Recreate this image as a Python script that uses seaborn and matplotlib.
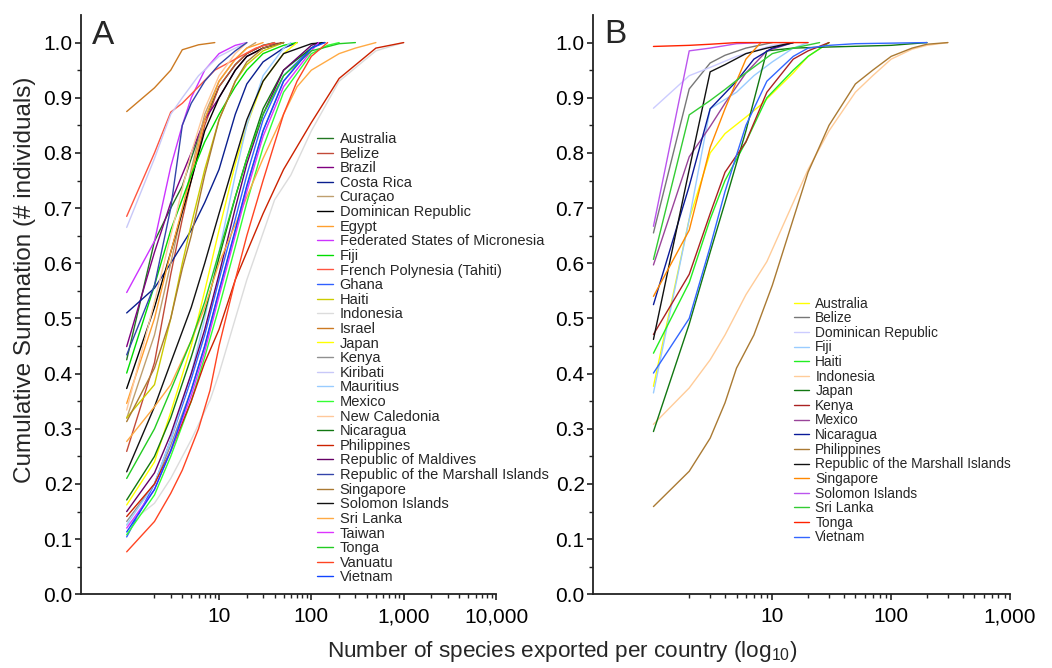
import matplotlib
matplotlib.use("Agg")
import matplotlib.pyplot as plt
import seaborn as sns
import pandas as pd

# ---------------- Panel A data ----------------
countries_A = ["Australia", "Belize", "Brazil", "Costa Rica", "Curaçao", "Dominican Republic",
               "Egypt", "Federated States of Micronesia", "Fiji", "French Polynesia (Tahiti)",
               "Ghana", "Haiti", "Indonesia", "Israel", "Japan", "Kenya", "Kiribati", "Mauritius",
               "Mexico", "New Caledonia", "Nicaragua", "Philippines", "Republic of Maldives",
               "Republic of the Marshall Islands", "Singapore", "Solomon Islands", "Sri Lanka",
               "Taiwan", "Tonga", "Vanuatu", "Vietnam"]
colors_A = ["#227722", "#c24a38", "#800080", "#0a1f8f", "#bf9f6f", "#000000",
            "#ff9f2f", "#cc33ff", "#00dd00", "#ff5540",
            "#3060ff", "#cccc00", "#dcdcdc", "#cc7a22", "#ffff00", "#909090", "#c8c8f8", "#99ccff",
            "#33ff33", "#ffc89a", "#117711", "#cc2200", "#660066",
            "#3344aa", "#aa7a33", "#111111", "#ffaa44",
            "#dd33ff", "#22cc22", "#ff4422", "#1144ff"]

a_australia_x = [1, 2, 3, 4, 5, 7, 10, 15, 20, 30, 40]
a_australia_y = [0.425, 0.64, 0.70, 0.74, 0.79, 0.86, 0.92, 0.96, 0.98, 0.995, 1.0]
a_belize_x = [1, 2, 3, 4, 5, 7, 10, 15, 20, 30, 50]
a_belize_y = [0.259, 0.42, 0.58, 0.68, 0.75, 0.85, 0.92, 0.96, 0.98, 0.995, 1.0]
a_brazil_x = [1, 2, 3, 5, 7, 10, 15, 20, 30, 50]
a_brazil_y = [0.449, 0.62, 0.71, 0.80, 0.86, 0.90, 0.95, 0.975, 0.99, 1.0]
a_costarica_x = [1, 2, 3, 5, 7, 10, 15, 20, 30, 50, 70]
a_costarica_y = [0.51, 0.555, 0.60, 0.66, 0.71, 0.77, 0.87, 0.925, 0.965, 0.99, 1.0]
a_curacao_x = [1, 2, 3, 5, 7, 10, 15, 20, 25]
a_curacao_y = [0.319, 0.47, 0.60, 0.77, 0.87, 0.93, 0.97, 0.99, 1.0]
a_dominican_x = [1, 2, 3, 5, 7, 10, 15, 20, 30, 50]
a_dominican_y = [0.373, 0.52, 0.62, 0.75, 0.84, 0.90, 0.95, 0.975, 0.99, 1.0]
a_egypt_x = [1, 2, 3, 5, 7, 10, 15, 20, 30]
a_egypt_y = [0.346, 0.50, 0.62, 0.76, 0.86, 0.93, 0.97, 0.99, 1.0]
a_micronesia_x = [1, 2, 3, 4, 5, 7, 10, 15, 20]
a_micronesia_y = [0.547, 0.64, 0.775, 0.85, 0.90, 0.95, 0.98, 0.995, 1.0]
a_fiji_x = [1, 2, 3, 5, 7, 10, 15, 20, 30, 50, 70]
a_fiji_y = [0.401, 0.56, 0.66, 0.76, 0.82, 0.87, 0.92, 0.95, 0.98, 0.995, 1.0]
a_frpolynesia_x = [1, 2, 3, 4, 6, 9, 15, 25, 40]
a_frpolynesia_y = [0.685, 0.80, 0.874, 0.89, 0.92, 0.95, 0.97, 0.99, 1.0]
a_ghana_x = [1, 2, 3, 5, 7, 10, 15, 20, 30, 50, 100, 120]
a_ghana_y = [0.104, 0.20, 0.28, 0.39, 0.47, 0.57, 0.68, 0.76, 0.86, 0.94, 0.99, 1.0]
a_haiti_x = [1, 2, 3, 4, 5, 7, 10, 15, 20, 30, 50]
a_haiti_y = [0.32, 0.38, 0.50, 0.60, 0.67, 0.77, 0.86, 0.93, 0.96, 0.985, 1.0]
a_indonesia_x = [1, 2, 3, 5, 8, 10, 20, 40, 60, 100, 200, 500, 1000]
a_indonesia_y = [0.125, 0.165, 0.21, 0.28, 0.352, 0.40, 0.57, 0.715, 0.76, 0.84, 0.93, 0.985, 1.0]
a_israel_x = [1, 2, 3, 4, 6, 9]
a_israel_y = [0.875, 0.918, 0.95, 0.987, 0.996, 1.0]
a_japan_x = [1, 2, 3, 5, 7, 10, 15, 20, 30, 50, 70]
a_japan_y = [0.162, 0.24, 0.33, 0.45, 0.55, 0.66, 0.78, 0.85, 0.93, 0.98, 1.0]
a_kenya_x = [1, 2, 3, 5, 7, 10, 15, 20, 30, 50, 100, 130]
a_kenya_y = [0.132, 0.20, 0.27, 0.37, 0.45, 0.55, 0.66, 0.74, 0.84, 0.93, 0.99, 1.0]
a_kiribati_x = [1, 2, 3, 4, 6, 10, 15, 20]
a_kiribati_y = [0.665, 0.79, 0.87, 0.90, 0.94, 0.975, 0.99, 1.0]
a_mauritius_x = [1, 2, 3, 5, 7, 10, 15, 20, 30, 50, 60]
a_mauritius_y = [0.126, 0.20, 0.28, 0.40, 0.50, 0.62, 0.76, 0.85, 0.94, 0.99, 1.0]
a_mexico_x = [1, 2, 3, 5, 7, 10, 15, 20, 30, 50, 100, 150, 200]
a_mexico_y = [0.108, 0.18, 0.25, 0.35, 0.43, 0.52, 0.63, 0.71, 0.81, 0.91, 0.98, 0.995, 1.0]
a_newcaledonia_x = [1, 2, 3, 5, 7, 10, 15, 20]
a_newcaledonia_y = [0.334, 0.53, 0.65, 0.80, 0.88, 0.94, 0.98, 1.0]
a_nicaragua_x = [1, 2, 3, 5, 7, 10, 15, 20, 30, 50, 100, 130]
a_nicaragua_y = [0.171, 0.25, 0.32, 0.43, 0.51, 0.61, 0.72, 0.79, 0.88, 0.95, 0.99, 1.0]
a_philippines_x = [1, 2, 3, 5, 7, 10, 15, 20, 30, 50, 100, 200, 500, 1000]
a_philippines_y = [0.141, 0.20, 0.26, 0.35, 0.42, 0.48, 0.57, 0.62, 0.69, 0.77, 0.855, 0.935, 0.99, 1.0]
a_maldives_x = [1, 2, 3, 5, 7, 10, 15, 20, 30, 50, 100, 120]
a_maldives_y = [0.150, 0.22, 0.29, 0.40, 0.48, 0.58, 0.70, 0.78, 0.87, 0.95, 0.995, 1.0]
a_marshall_x = [1, 2, 3, 4, 5, 7, 10, 15, 20]
a_marshall_y = [0.434, 0.56, 0.70, 0.85, 0.89, 0.93, 0.96, 0.985, 1.0]
a_singapore_x = [1, 2, 3, 4, 5, 7, 10, 15, 20, 30, 50]
a_singapore_y = [0.313, 0.41, 0.50, 0.59, 0.65, 0.76, 0.86, 0.93, 0.965, 0.99, 1.0]
a_solomon_x = [1, 2, 3, 5, 7, 10, 15, 20, 30, 50, 100, 140]
a_solomon_y = [0.222, 0.34, 0.42, 0.52, 0.60, 0.69, 0.79, 0.86, 0.93, 0.98, 0.998, 1.0]
a_srilanka_x = [1, 2, 3, 5, 7, 10, 15, 20, 30, 50, 70, 100, 200, 300, 500]
a_srilanka_y = [0.277, 0.34, 0.38, 0.46, 0.52, 0.60, 0.67, 0.72, 0.79, 0.87, 0.92, 0.95, 0.98, 0.99, 1.0]
a_taiwan_x = [1, 2, 3, 5, 7, 10, 15, 20, 30, 50, 100, 120]
a_taiwan_y = [0.12, 0.19, 0.26, 0.36, 0.44, 0.54, 0.65, 0.73, 0.83, 0.92, 0.985, 1.0]
a_tonga_x = [1, 2, 3, 5, 7, 10, 15, 20, 30, 50, 100, 200, 300]
a_tonga_y = [0.21, 0.30, 0.37, 0.46, 0.53, 0.62, 0.72, 0.79, 0.87, 0.94, 0.985, 0.998, 1.0]
a_vanuatu_x = [1, 2, 3, 4, 6, 8, 10, 15, 20, 30, 50, 70, 100, 150]
a_vanuatu_y = [0.077, 0.132, 0.183, 0.225, 0.30, 0.37, 0.45, 0.57, 0.65, 0.75, 0.87, 0.93, 0.975, 1.0]
a_vietnam_x = [1, 2, 3, 5, 7, 10, 15, 20, 30, 50, 100, 140]
a_vietnam_y = [0.113, 0.19, 0.26, 0.37, 0.45, 0.55, 0.66, 0.74, 0.84, 0.93, 0.99, 1.0]

series_A = [(a_australia_x, a_australia_y), (a_belize_x, a_belize_y), (a_brazil_x, a_brazil_y),
            (a_costarica_x, a_costarica_y), (a_curacao_x, a_curacao_y), (a_dominican_x, a_dominican_y),
            (a_egypt_x, a_egypt_y), (a_micronesia_x, a_micronesia_y), (a_fiji_x, a_fiji_y),
            (a_frpolynesia_x, a_frpolynesia_y), (a_ghana_x, a_ghana_y), (a_haiti_x, a_haiti_y),
            (a_indonesia_x, a_indonesia_y), (a_israel_x, a_israel_y), (a_japan_x, a_japan_y),
            (a_kenya_x, a_kenya_y), (a_kiribati_x, a_kiribati_y), (a_mauritius_x, a_mauritius_y),
            (a_mexico_x, a_mexico_y), (a_newcaledonia_x, a_newcaledonia_y), (a_nicaragua_x, a_nicaragua_y),
            (a_philippines_x, a_philippines_y), (a_maldives_x, a_maldives_y), (a_marshall_x, a_marshall_y),
            (a_singapore_x, a_singapore_y), (a_solomon_x, a_solomon_y), (a_srilanka_x, a_srilanka_y),
            (a_taiwan_x, a_taiwan_y), (a_tonga_x, a_tonga_y), (a_vanuatu_x, a_vanuatu_y),
            (a_vietnam_x, a_vietnam_y)]

# ---------------- Panel B data ----------------
countries_B = ["Australia", "Belize", "Dominican Republic", "Fiji", "Haiti", "Indonesia", "Japan",
               "Kenya", "Mexico", "Nicaragua", "Philippines", "Republic of the Marshall Islands",
               "Singapore", "Solomon Islands", "Sri Lanka", "Tonga", "Vietnam"]
colors_B = ["#ffff00", "#777777", "#ccccff", "#99ccff", "#22ee22", "#ffcc99", "#117711",
            "#aa2222", "#994499", "#0a1a99", "#aa7a33", "#111111",
            "#ff8800", "#bb55ee", "#33cc33", "#ff2200", "#3366ff"]

b_australia_x = [1, 2, 3, 4, 6, 8, 15, 20, 30]
b_australia_y = [0.377, 0.68, 0.80, 0.835, 0.865, 0.887, 0.945, 0.975, 1.0]
b_belize_x = [1, 2, 3, 4, 6, 10]
b_belize_y = [0.655, 0.916, 0.963, 0.977, 0.99, 1.0]
b_dominican_x = [1, 2, 3, 5, 10, 15]
b_dominican_y = [0.881, 0.94, 0.955, 0.975, 0.995, 1.0]
b_fiji_x = [1, 2, 3, 5, 7, 10, 15, 20]
b_fiji_y = [0.365, 0.68, 0.88, 0.91, 0.94, 0.965, 0.99, 1.0]
b_haiti_x = [1, 2, 3, 4, 6, 9, 15, 20, 30]
b_haiti_y = [0.437, 0.565, 0.68, 0.75, 0.82, 0.90, 0.95, 0.975, 1.0]
b_indonesia_x = [1, 2, 3, 4, 6, 9, 15, 20, 30, 50, 70, 100, 150, 200, 300]
b_indonesia_y = [0.308, 0.374, 0.425, 0.47, 0.543, 0.603, 0.71, 0.77, 0.84, 0.91, 0.94, 0.97, 0.988, 0.995, 1.0]
b_japan_x = [1, 2, 3, 4, 6, 9, 15, 30, 100, 200]
b_japan_y = [0.295, 0.49, 0.62, 0.71, 0.84, 0.985, 0.99, 0.992, 0.995, 1.0]
b_kenya_x = [1, 2, 3, 4, 6, 9, 15, 20, 30]
b_kenya_y = [0.471, 0.58, 0.69, 0.765, 0.82, 0.91, 0.97, 0.985, 1.0]
b_mexico_x = [1, 2, 3, 4, 6, 9, 15]
b_mexico_y = [0.597, 0.793, 0.848, 0.89, 0.945, 0.985, 1.0]
b_nicaragua_x = [1, 2, 3, 5, 7, 10, 15]
b_nicaragua_y = [0.525, 0.74, 0.88, 0.93, 0.97, 0.99, 1.0]
b_philippines_x = [1, 2, 3, 4, 5, 7, 10, 15, 20, 30, 50, 70, 100, 150, 200, 300]
b_philippines_y = [0.159, 0.223, 0.283, 0.347, 0.41, 0.47, 0.56, 0.68, 0.765, 0.85, 0.925, 0.95, 0.975, 0.99, 0.997, 1.0]
b_marshall_x = [1, 2, 3, 4, 6, 9, 15]
b_marshall_y = [0.462, 0.77, 0.947, 0.96, 0.98, 0.99, 1.0]
b_singapore_x = [1, 2, 3, 4, 5, 6, 8]
b_singapore_y = [0.54, 0.66, 0.81, 0.88, 0.93, 0.97, 1.0]
b_solomon_x = [1, 2, 3, 5, 8]
b_solomon_y = [0.667, 0.985, 0.99, 0.998, 1.0]
b_srilanka_x = [1, 2, 3, 4, 6, 10, 15, 25]
b_srilanka_y = [0.607, 0.869, 0.895, 0.915, 0.945, 0.98, 0.99, 1.0]
b_tonga_x = [1, 2, 3, 5, 10, 20]
b_tonga_y = [0.993, 0.995, 0.997, 1.0, 1.0, 1.0]
b_vietnam_x = [1, 2, 3, 4, 6, 9, 15, 20, 30, 50, 100, 200]
b_vietnam_y = [0.401, 0.50, 0.63, 0.73, 0.85, 0.93, 0.975, 0.99, 0.995, 0.998, 0.999, 1.0]

series_B = [(b_australia_x, b_australia_y), (b_belize_x, b_belize_y), (b_dominican_x, b_dominican_y),
            (b_fiji_x, b_fiji_y), (b_haiti_x, b_haiti_y), (b_indonesia_x, b_indonesia_y),
            (b_japan_x, b_japan_y), (b_kenya_x, b_kenya_y), (b_mexico_x, b_mexico_y),
            (b_nicaragua_x, b_nicaragua_y), (b_philippines_x, b_philippines_y),
            (b_marshall_x, b_marshall_y), (b_singapore_x, b_singapore_y), (b_solomon_x, b_solomon_y),
            (b_srilanka_x, b_srilanka_y), (b_tonga_x, b_tonga_y), (b_vietnam_x, b_vietnam_y)]

# ticks
y_ticks = [0.0, 0.1, 0.2, 0.3, 0.4, 0.5, 0.6, 0.7, 0.8, 0.9, 1.0]
y_tick_labels = ["0.0", "0.1", "0.2", "0.3", "0.4", "0.5", "0.6", "0.7", "0.8", "0.9", "1.0"]
xA_ticks = [10, 100, 1000, 10000]
xA_labels = ["10", "100", "1,000", "10,000"]
xB_ticks = [10, 100, 1000]
xB_labels = ["10", "100", "1,000"]

# ---------------- Styling ----------------
sns.set_theme(style="ticks")
plt.rcParams["font.family"] = ["Liberation Sans", "DejaVu Sans"]
plt.rcParams["mathtext.fontset"] = "custom"
plt.rcParams["mathtext.rm"] = "Liberation Sans"
plt.rcParams["mathtext.it"] = "Liberation Sans:italic"

fig = plt.figure(figsize=(10.52, 6.68), dpi=100)
bottom, top = 1 - 594.3 / 668, 1 - 15 / 668
axA = fig.add_axes([81 / 1052, bottom, (496 - 81) / 1052, top - bottom])
axB = fig.add_axes([593 / 1052, bottom, (1010 - 593) / 1052, top - bottom])


def long_df(countries, series):
    rows = []
    for name, (xs, ys) in zip(countries, series):
        for xv, yv in zip(xs, ys):
            rows.append((name, xv, yv))
    return pd.DataFrame(rows, columns=["country", "x", "y"])


def draw(ax, countries, colors, series, xlim, majors, major_labels, legend_anchor,
         leg_fs, leg_ls):
    df = long_df(countries, series)
    sns.lineplot(data=df, x="x", y="y", hue="country", hue_order=countries,
                 palette=dict(zip(countries, colors)), estimator=None, sort=False,
                 linewidth=1.0, ax=ax, legend=True)
    ax.set_xscale("log")
    ax.set_xlim(*xlim)
    ax.set_ylim(0, 1.05)
    ax.set_xticks(majors)
    ax.set_xticklabels(major_labels)
    minors = [k * 10 ** d for d in range(0, 5) for k in range(2, 10) if k * 10 ** d < xlim[1]]
    ax.set_xticks(minors, minor=True)
    ax.set_yticks(y_ticks)
    ax.set_yticklabels(y_tick_labels)
    ax.set_yticks([v + 0.05 for v in y_ticks[:-1]], minor=True)
    ax.set_xlabel("")
    ax.set_ylabel("")
    for s in ("top", "right"):
        ax.spines[s].set_visible(False)
    for s in ("left", "bottom"):
        ax.spines[s].set_linewidth(1.3)
        ax.spines[s].set_color("#222222")
    ax.tick_params(axis="both", which="major", labelsize=15, length=4.5, width=1.2,
                   color="#222222", labelcolor="black", direction="out")
    ax.tick_params(axis="y", which="major", pad=1.5)
    ax.tick_params(axis="x", which="major", pad=5)
    ax.tick_params(axis="both", which="minor", length=3, width=1.0, color="#222222")
    handles, labels = ax.get_legend_handles_labels()
    ax.legend(handles, labels, loc="upper left", bbox_to_anchor=legend_anchor, frameon=False,
              fontsize=leg_fs, labelspacing=leg_ls, handlelength=1.1, handletextpad=0.45,
              borderpad=0, borderaxespad=0)


draw(axA, countries_A, colors_A, series_A, (0.32, 10000), xA_ticks, xA_labels, (0.569, 0.798),
     10.5, 0.042)
draw(axB, countries_B, colors_B, series_B, (0.31, 1000), xB_ticks, xB_labels, (0.482, 0.514),
     9.9, 0.045)

fig.text(92 / 1052, 1 - 20 / 668, "A", fontsize=24, va="top", ha="left")
fig.text(604 / 1052, 1 - 19 / 668, "B", fontsize=24, va="top", ha="left")
fig.text(562 / 1052, 1 - 652 / 668, r"Number of species exported per country (log$_{10}$)",
         fontsize=16.2, ha="center", va="center")
fig.text(25 / 1052, 1 - 280 / 668, "Cumulative Summation (# individuals)", fontsize=17.5,
         rotation=90, ha="center", va="center")

fig.savefig("out.png", dpi=100)
